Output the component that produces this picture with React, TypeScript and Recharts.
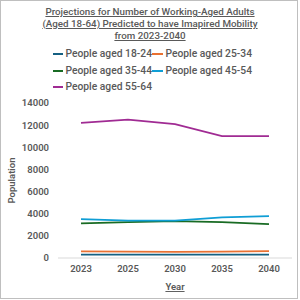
import React from 'react';
import { LineChart, Line, XAxis, YAxis } from 'recharts';

const years = ['2023', '2025', '2030', '2035', '2040'];
const aged18to24 = [310, 300, 310, 310, 300];
const aged25to34 = [600, 570, 560, 570, 610];
const aged35to44 = [3130, 3250, 3340, 3250, 3060];
const aged45to54 = [3520, 3380, 3370, 3680, 3790];
const aged55to64 = [12200, 12500, 12100, 11000, 11000];
const yTicks = [0, 2000, 4000, 6000, 8000, 10000, 12000, 14000];

const SERIES = [
  { key: 'a', name: 'People aged 18-24', color: '#156082', values: aged18to24 },
  { key: 'b', name: 'People aged 25-34', color: '#E97132', values: aged25to34 },
  { key: 'c', name: 'People aged 35-44', color: '#196B24', values: aged35to44 },
  { key: 'd', name: 'People aged 45-54', color: '#0F9ED5', values: aged45to54 },
  { key: 'e', name: 'People aged 55-64', color: '#A02B93', values: aged55to64 },
];

const data = years.map((year, i) => {
  const row: Record<string, string | number> = { year };
  SERIES.forEach(s => { row[s.key] = s.values[i]; });
  return row;
});

const FONT = 'Roboto, "Noto Sans", sans-serif';
const GREY = '#595959';

const App: React.FC = () => {
  return (
    <div
      style={{
        position: 'relative',
        width: 298,
        height: 299,
        border: '1px solid #bfbfbf',
        boxSizing: 'border-box',
        background: '#fff',
        fontFamily: FONT,
      }}
    >
      <style>{'body{margin:0}'}</style>
      <div
        style={{
          position: 'absolute',
          top: 5,
          left: 0,
          width: 298,
          textAlign: 'center',
          fontSize: 9.8,
          lineHeight: '11.8px',
          fontWeight: 500,
          color: GREY,
          textDecoration: 'underline',
        }}
      >
        Projections for Number of Working-Aged Adults
        <br />
        (Aged 18-64) Predicted to have Imapired Mobility
        <br />
        from 2023-2040
      </div>
      <div
        style={{
          position: 'absolute',
          top: 46,
          left: 52,
          width: 200,
          display: 'grid',
          gridTemplateColumns: '99px 100px',
          rowGap: 2.5,
          fontSize: 10.3,
          lineHeight: '14px',
          fontWeight: 500,
          color: GREY,
        }}
      >
        {SERIES.map(s => (
          <div key={s.key} style={{ display: 'flex', alignItems: 'center', whiteSpace: 'nowrap' }}>
            <span style={{ display: 'inline-block', width: 15, height: 2, background: s.color, marginRight: 2 }} />
            {s.name}
          </div>
        ))}
      </div>
      <LineChart
        width={298}
        height={299}
        data={data}
        margin={{ top: 103, right: 6, left: 0, bottom: 0 }}
        style={{ position: 'absolute', top: -1, left: -1 }}
      >
        <XAxis
          dataKey="year"
          height={41}
          padding={{ left: 23, right: 23 }}
          tickLine={false}
          axisLine={{ stroke: '#d9d9d9' }}
          tickSize={4}
          tickMargin={3}
          tick={{ fill: GREY, fontSize: 9.5, fontWeight: 600, fontFamily: FONT }}
          label={{
            value: 'Year',
            position: 'insideBottom',
            offset: 9,
            fill: GREY,
            fontSize: 9.5,
            fontWeight: 600,
            fontFamily: FONT,
            textDecoration: 'underline',
          }}
        />
        <YAxis
          width={58}
          domain={[0, 14000]}
          ticks={yTicks}
          tickLine={false}
          axisLine={false}
          tickSize={7}
          tickMargin={2}
          tick={{ fill: GREY, fontSize: 9.5, fontWeight: 600, fontFamily: FONT }}
          label={{
            value: 'Population',
            angle: -90,
            position: 'insideLeft',
            offset: 12,
            style: { textAnchor: 'middle' },
            fill: GREY,
            fontSize: 9.5,
            fontWeight: 600,
            fontFamily: FONT,
          }}
        />
        {SERIES.map(s => (
          <Line
            key={s.key}
            type="linear"
            dataKey={s.key}
            name={s.name}
            stroke={s.color}
            strokeWidth={1.75}
            dot={false}
            isAnimationActive={false}
          />
        ))}
      </LineChart>
    </div>
  );
};

export default App;
